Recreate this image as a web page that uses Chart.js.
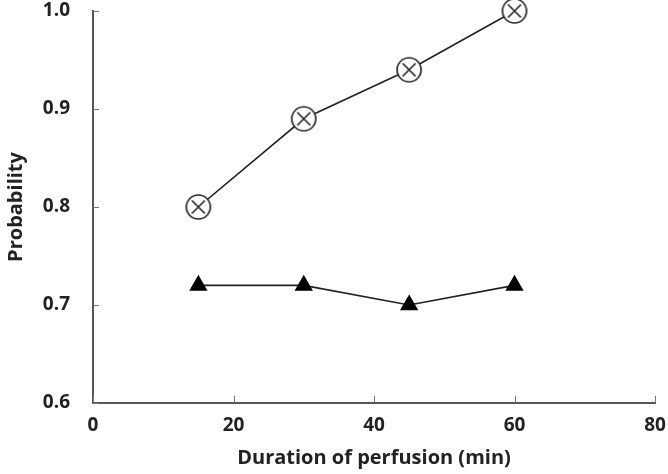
<!DOCTYPE html>
<html>
<head>
<meta charset="utf-8">
<script src="https://cdn.jsdelivr.net/npm/chart.js@4/dist/chart.umd.min.js"></script>
<style>
  html, body { margin: 0; padding: 0; background: #fff; }
  #wrap { width: 668px; height: 474px; }
</style>
</head>
<body>
<div id="wrap"><canvas id="grafico" width="668" height="474"></canvas></div>
<script>
// data
const duration = [15, 30, 45, 60];
const circleSeries = [0.80, 0.89, 0.94, 1.00];
const triangleSeries = [0.72, 0.72, 0.70, 0.72];
const xTicks = [0, 20, 40, 60, 80];
const yTicks = [0.6, 0.7, 0.8, 0.9, 1.0];

const ink = '#222';
const tickFont = { family: '"Open Sans", "Noto Sans", sans-serif', size: 19, weight: 'bold' };
const titleFont = { family: '"Open Sans", "Noto Sans", sans-serif', size: 20, weight: 'bold' };

// circle with an x inside
const crossCircle = document.createElement('canvas');
crossCircle.width = 28;
crossCircle.height = 28;
(function () {
    const c = crossCircle.getContext('2d');
    c.strokeStyle = '#2a2a2a';
    c.lineWidth = 1.7;
    c.fillStyle = '#fff';
    c.beginPath();
    c.arc(14, 14, 12, 0, Math.PI * 2);
    c.fill();
    c.stroke();
    c.beginPath();
    c.moveTo(7.5, 7.5); c.lineTo(20.5, 20.5);
    c.moveTo(20.5, 7.5); c.lineTo(7.5, 20.5);
    c.stroke();
})();

// tick marks pointing into the plot
const innerTicks = {
    id: 'innerTicks',
    afterDraw(chart) {
        const { ctx, chartArea, scales } = chart;
        ctx.save();
        ctx.strokeStyle = '#777';
        ctx.lineWidth = 1;
        ctx.beginPath();
        yTicks.forEach(v => {
            const y = Math.round(scales.y.getPixelForValue(v)) + 0.5;
            ctx.moveTo(chartArea.left, y);
            ctx.lineTo(chartArea.left + 6, y);
        });
        xTicks.forEach(v => {
            const x = Math.round(scales.x.getPixelForValue(v)) + 0.5;
            ctx.moveTo(x, chartArea.bottom);
            ctx.lineTo(x, chartArea.bottom - 7);
        });
        ctx.stroke();
        ctx.restore();
    }
};

const toPoints = (xs, ys) => xs.map((x, i) => ({ x: x, y: ys[i] }));

new Chart(document.getElementById('grafico').getContext('2d'), {
    type: 'line',
    data: {
        datasets: [{
            data: toPoints(duration, circleSeries),
            borderColor: ink,
            borderWidth: 1.6,
            pointStyle: crossCircle,
            clip: false
        }, {
            data: toPoints(duration, triangleSeries),
            borderColor: ink,
            borderWidth: 1.6,
            pointStyle: 'triangle',
            pointRadius: 9,
            pointBackgroundColor: '#000',
            pointBorderColor: '#000',
            clip: false
        }]
    },
    plugins: [innerTicks],
    options: {
        responsive: false,
        animation: false,
        layout: { autoPadding: false, padding: 0 },
        plugins: { legend: { display: false }, tooltip: { enabled: false } },
        scales: {
            x: {
                type: 'linear',
                min: 0,
                max: 80,
                afterBuildTicks: s => { s.ticks = xTicks.map(v => ({ value: v })); },
                afterFit: s => {
                    s.height = 71;
                    s.paddingLeft = 0;
                    s.paddingRight = 13;
                },
                grid: { display: false },
                border: { display: true, color: '#555', width: 2 },
                ticks: { color: ink, font: tickFont, padding: 3, maxRotation: 0 },
                title: { display: true, text: 'Duration of perfusion (min)', color: ink, font: titleFont, padding: { top: 9 } }
            },
            y: {
                type: 'linear',
                min: 0.6,
                max: 1.0,
                afterBuildTicks: s => { s.ticks = yTicks.map(v => ({ value: v })); },
                afterFit: s => {
                    s.width = 93;
                    s.paddingTop = 11;
                    s.paddingBottom = 0;
                },
                grid: { display: false },
                border: { display: true, color: '#555', width: 2 },
                ticks: { color: ink, font: tickFont, padding: 15, callback: v => v.toFixed(1) },
                title: { display: true, text: 'Probability', color: ink, font: titleFont, padding: { bottom: 1 } }
            }
        }
    }
});
</script>
</body>
</html>
